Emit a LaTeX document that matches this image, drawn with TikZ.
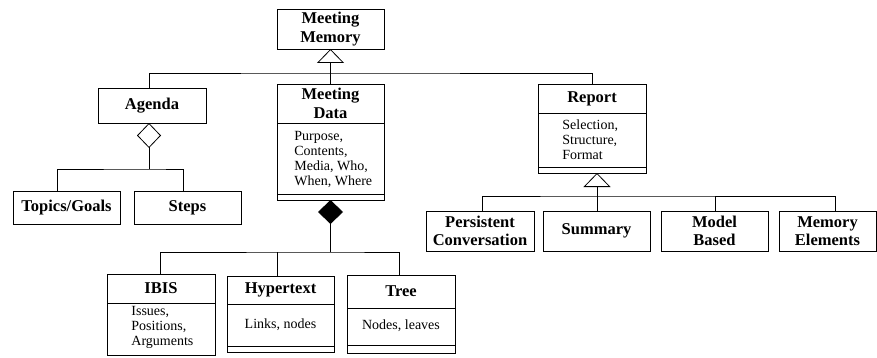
\documentclass[tikz,border=0pt]{standalone}
\usepackage{fontspec}
\setmainfont{Liberation Serif}
\usetikzlibrary{arrows.meta}
\begin{document}
\begin{tikzpicture}[x=1pt,y=-1pt,line width=0.8pt,
  box/.style={draw,anchor=north west,inner sep=0pt,outer sep=0pt},
  ttl/.style={font=\fontsize{16.5}{18.5}\selectfont\bfseries,align=center,inner sep=0pt},
  bdy/.style={font=\fontsize{14}{15}\selectfont,align=left,inner sep=0pt},
  gen/.style={-{Triangle[open,width=27pt,length=14pt]}},
  agg/.style={{Diamond[open,width=24pt,length=25pt]}-},
  comp/.style={{Diamond[fill=black,width=25pt,length=24pt]}-}]
\useasboundingbox (0,0) rectangle (877,358);

% boxes
\node[box,minimum width=107pt,minimum height=40pt] (mm) at (277,9) {};
\node[ttl] at (330.5,29) {Meeting\\Memory};

\node[box,minimum width=108pt,minimum height=35pt] (agenda) at (98,88) {};
\node[ttl] at (152,105.5) {Agenda};

\node[box,minimum width=107pt,minimum height=116pt] (mdat) at (277,84) {};
\node[ttl] at (330.5,103.5) {Meeting\\Data};
\draw (mdat.west |- 0,123) -- (mdat.east |- 0,123);
\draw (mdat.west |- 0,194) -- (mdat.east |- 0,194);
\node[bdy,anchor=west] at (294,159) {Purpose,\\Contents,\\Media, Who,\\When, Where};

\node[box,minimum width=108pt,minimum height=89pt] (report) at (538,84) {};
\node[ttl] at (592,98.5) {Report};
\draw (report.west |- 0,113) -- (report.east |- 0,113);
\draw (report.west |- 0,167) -- (report.east |- 0,167);
\node[bdy,anchor=west] at (562,140) {Selection,\\Structure,\\Format};

\node[box,minimum width=107pt,minimum height=33pt] (topics) at (13,191) {};
\node[ttl] at (66.5,207.5) {Topics/Goals};
\node[box,minimum width=107pt,minimum height=33pt] (steps) at (134,191) {};
\node[ttl] at (187.5,207.5) {Steps};

\node[box,minimum width=108pt,minimum height=81pt] (ibis) at (107,274) {};
\node[ttl] at (161,288.5) {IBIS};
\draw (ibis.west |- 0,303) -- (ibis.east |- 0,303);
\node[bdy,anchor=west] at (131,327) {Issues,\\Positions,\\Arguments};

\node[box,minimum width=107pt,minimum height=76pt] (hyp) at (227,276) {};
\node[ttl] at (280.5,290) {Hypertext};
\draw (hyp.west |- 0,304) -- (hyp.east |- 0,304);
\draw (hyp.west |- 0,346) -- (hyp.east |- 0,346);
\node[bdy] at (280.5,325) {Links, nodes};

\node[box,minimum width=108pt,minimum height=78pt] (tree) at (347,275) {};
\node[ttl] at (401,291.5) {Tree};
\draw (tree.west |- 0,308) -- (tree.east |- 0,308);
\draw (tree.west |- 0,345) -- (tree.east |- 0,345);
\node[bdy] at (401,326) {Nodes, leaves};

\node[box,minimum width=108pt,minimum height=40pt] (pc) at (426,211) {};
\node[ttl] at (480,231) {Persistent\\Conversation};
\node[box,minimum width=107pt,minimum height=40pt] (summ) at (543,211) {};
\node[ttl] at (596.5,231) {Summary};
\node[box,minimum width=107pt,minimum height=40pt] (model) at (661,211) {};
\node[ttl] at (714.5,231) {Model\\Based};
\node[box,minimum width=97pt,minimum height=40pt] (memel) at (779,211) {};
\node[ttl] at (827.5,231) {Memory\\Elements};

% connectors
\coordinate (b1) at (330.5,73);
\draw[gen] (mdat.north) -- (mm.south);
\draw ([xshift=-3pt]agenda.north) |- (b1) -| (report.north);

\coordinate (b2) at (149,169);
\draw[agg] ([xshift=-3pt]agenda.south) -- (b2);
\draw ([xshift=-9.5pt]topics.north) |- (b2) -| ([xshift=-4.5pt]steps.north);

\coordinate (b3) at (330.5,252);
\draw[comp] (mdat.south) -- (b3);
\draw ([xshift=-1pt]ibis.north) |- (b3) -| ([xshift=-2pt]tree.north);
\draw ([xshift=-3.5pt]hyp.north) -- ([xshift=-3.5pt]hyp.north |- b3);

\coordinate (b4) at (597,196);
\draw[gen] (b4) -- ([xshift=5pt]report.south);
\draw ([xshift=2pt]pc.north) |- (b4) -| ([xshift=7.5pt]memel.north);
\draw ([xshift=0.5pt]summ.north) -- (b4);
\draw ([xshift=0.5pt]model.north) -- ([xshift=0.5pt]model.north |- b4);
\end{tikzpicture}
\end{document}
